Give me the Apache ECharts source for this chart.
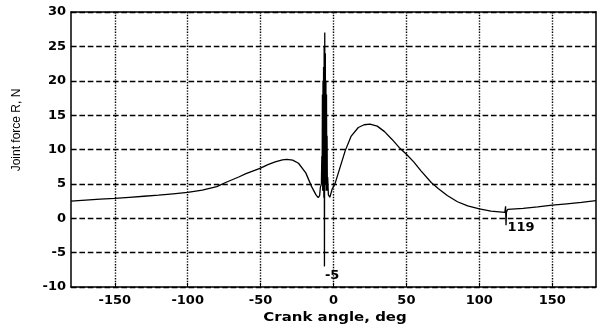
<!DOCTYPE html>
<html>
<head>
<meta charset="utf-8">
<script src="https://cdn.jsdelivr.net/npm/echarts@6/dist/echarts.min.js"></script>
<style>
html, body { margin: 0; padding: 0; background: #fff; }
#main { width: 599px; height: 328px; }
</style>
</head>
<body>
<div id="main"></div>
<script>
// crank angle (deg) and joint force R (N)
const angles = [
    -180, -170, -160, -150, -140, -130, -120, -110, -100, -90,
    -80, -74, -65, -60, -50, -45, -40, -35, -32, -28,
    -24, -19, -15, -12, -10.5, -9.5, -9, -8.3,
    -8.0, -7.8, -7.6, -7.4, -7.2, -7.0, -6.8, -6.6, -6.4, -6.2,
    -6.0, -5.8, -5.6, -5.4, -5.2, -5.0, -4.8, -4.6, -4.4, -4.2,
    -4.0, -3.5, -2.5, -1, 1, 4.5, 8, 12, 17, 21, 25,
    30, 35, 40, 45, 50, 55, 60, 67, 72, 78,
    85, 92, 100, 108, 117.5, 118, 118.3, 118.6, 119.5, 130,
    140, 150, 160, 170, 180
];
const forces = [
    2.5, 2.65, 2.78, 2.9, 3.05, 3.2, 3.35, 3.55, 3.75, 4.1,
    4.6, 5.2, 6.0, 6.5, 7.3, 7.8, 8.2, 8.5, 8.55, 8.45,
    8.0, 6.6, 4.6, 3.4, 3.0, 3.3, 4.5, 5.0,
    9, 5, 18, 4, 20, 6, 22, 3, 25, -7,
    27, 5, 24, 6, 20, 4, 18, 5, 12, 4,
    6, 3.4, 3.05, 4.2, 5.0, 7.4, 9.8, 11.9, 13.2, 13.6, 13.7,
    13.4, 12.6, 11.5, 10.3, 9.3, 8.2, 6.9, 5.2, 4.3, 3.3,
    2.4, 1.8, 1.35, 1.05, 0.85, 1.75, -1.0, 0.9, 1.3, 1.45,
    1.65, 1.9, 2.1, 2.3, 2.55
];

const xTicks = [-150, -100, -50, 0, 50, 100, 150];

// data tips left on the plot
const tipLabels = ['-5', '119'];
const tipX = [-5.9, 119.3];
const tipY = [-8.3, -1.3];

const points = angles.map((a, i) => [a, forces[i]]);
const tips = tipLabels.map((t, i) => ({
    coord: [tipX[i], tipY[i]],
    value: t
}));

const tickFont = {
    color: '#000',
    fontFamily: 'DejaVu Sans',
    fontWeight: 'bold',
    fontSize: 13
};
const black = { color: '#000', width: 1.5 };

const myChart = echarts.init(document.getElementById('main'));
myChart.setOption({
    animation: false,
    backgroundColor: '#fff',
    grid: {
        left: 71,
        right: 3,
        top: 12,
        bottom: 41
    },
    xAxis: [{
        type: 'value',
        min: -180,
        max: 180,
        axisLine: { onZero: false, lineStyle: black },
        axisTick: { inside: true, length: 4, customValues: xTicks, lineStyle: { color: '#000' } },
        axisLabel: Object.assign({ margin: 7, customValues: xTicks }, tickFont),
        splitLine: { show: true, lineStyle: { color: '#000', type: 'dotted', width: 1.4 } }
    }, {
        type: 'value',
        position: 'top',
        min: -180,
        max: 180,
        axisLine: { onZero: false, lineStyle: black },
        axisTick: { show: false },
        axisLabel: { show: false },
        splitLine: { show: false }
    }],
    yAxis: [{
        type: 'value',
        min: -10,
        max: 30,
        interval: 5,
        axisLine: { onZero: false, show: true, lineStyle: black },
        axisTick: { show: true, inside: true, length: 4, lineStyle: { color: '#000' } },
        axisLabel: Object.assign({ margin: 5 }, tickFont),
        splitLine: { show: true, lineStyle: { color: '#000', type: 'dashed', width: 1.4 } }
    }, {
        type: 'value',
        position: 'right',
        min: -10,
        max: 30,
        axisLine: { onZero: false, show: true, lineStyle: black },
        axisTick: { show: false },
        axisLabel: { show: false },
        splitLine: { show: false }
    }],
    graphic: [{
        type: 'text',
        x: 17,
        y: 130,
        rotation: Math.PI / 2,
        style: {
            text: 'Joint force R, N',
            font: '12px "Liberation Sans"',
            fill: '#000',
            align: 'center',
            verticalAlign: 'middle'
        }
    }, {
        type: 'text',
        x: 335,
        y: 318,
        scaleX: 1.15,
        style: {
            text: 'Crank angle, deg',
            font: 'bold 13px "DejaVu Sans"',
            fill: '#000',
            align: 'center',
            verticalAlign: 'middle'
        }
    }],
    series: [{
        type: 'line',
        data: points,
        showSymbol: false,
        lineStyle: { color: '#000', width: 1.3 },
        markPoint: {
            symbol: 'circle',
            symbolSize: 0,
            label: {
                show: true,
                position: 'right',
                distance: 0,
                formatter: (p) => p.value,
                color: '#000',
                fontFamily: 'DejaVu Sans',
                fontWeight: 'bold',
                fontSize: 13
            },
            data: tips
        }
    }]
});
</script>
</body>
</html>
